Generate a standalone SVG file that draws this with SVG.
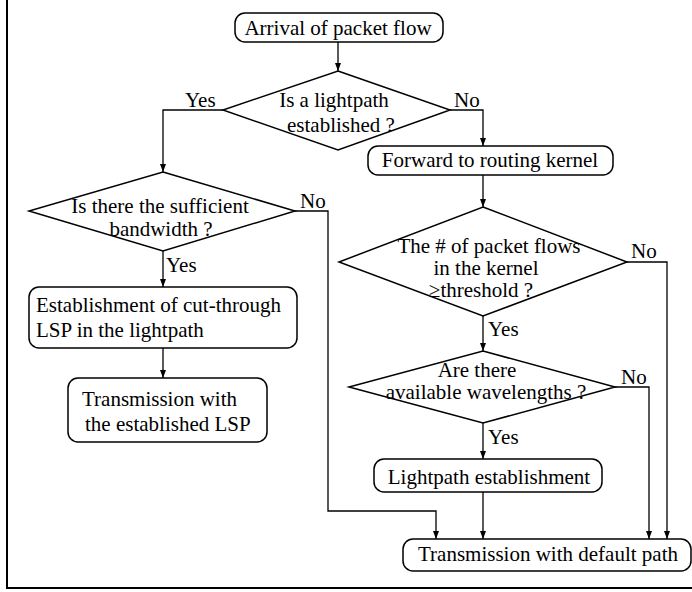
<svg xmlns="http://www.w3.org/2000/svg" width="692" height="592" viewBox="0 0 692 592">
<style>
.box{fill:#fff;stroke:#000;stroke-width:1.5}
.dia{fill:#fff;stroke:#000;stroke-width:1.5}
.con{fill:none;stroke:#000;stroke-width:1.3}
text{font-family:"Liberation Serif","Times New Roman",serif;font-size:21px;fill:#000}
.m{text-anchor:middle}
</style>
<defs>
<marker id="ah" markerWidth="6" markerHeight="8" refX="3" refY="8" orient="0" markerUnits="userSpaceOnUse" viewBox="0 0 6 8">
<path d="M0,0 L6,0 L3,8 Z" fill="#000"/>
</marker>
</defs>
<rect width="692" height="592" fill="#fff"/>
<path d="M7,0 V588 H692" fill="none" stroke="#000" stroke-width="2"/>
<g id="connectors">
<path class="con" d="M338,42 V71" marker-end="url(#ah)"/>
<path class="con" d="M223,110 H163 V172" marker-end="url(#ah)"/>
<path class="con" d="M450,110 H483 V146" marker-end="url(#ah)"/>
<path class="con" d="M483,175 V207" marker-end="url(#ah)"/>
<path class="con" d="M163,251 V287" marker-end="url(#ah)"/>
<path class="con" d="M295,211 H328 V511 H436 V539" marker-end="url(#ah)"/>
<path class="con" d="M163,348 V378" marker-end="url(#ah)"/>
<path class="con" d="M483,316 V351" marker-end="url(#ah)"/>
<path class="con" d="M627,262 H667 V539" marker-end="url(#ah)"/>
<path class="con" d="M483,423 V459" marker-end="url(#ah)"/>
<path class="con" d="M615,387 H649 V539" marker-end="url(#ah)"/>
<path class="con" d="M483,492 V539" marker-end="url(#ah)"/>
<text x="185" y="107">Yes</text>
<text x="454" y="107">No</text>
<text x="300" y="208">No</text>
<text x="166" y="272">Yes</text>
<text x="631" y="258">No</text>
<text x="488" y="336">Yes</text>
<text x="621" y="384">No</text>
<text x="488" y="444">Yes</text>
</g>
<g id="arrival">
<rect class="box" x="235" y="13" width="208" height="29" rx="10"/>
<text class="m" x="338" y="35">Arrival of packet flow</text>
</g>
<g id="d1">
<polygon class="dia" points="338,71 450,110 338,150 223,110"/>
<text class="m" x="334" y="107">Is a lightpath</text>
<text class="m" x="341" y="132">established ?</text>
</g>
<g id="forward">
<rect class="box" x="368" y="146" width="245" height="29" rx="10"/>
<text class="m" x="490" y="167">Forward to routing kernel</text>
</g>
<g id="d2">
<polygon class="dia" points="163,172 295,211 163,251 29,211"/>
<text class="m" x="160" y="213">Is there the sufficient</text>
<text class="m" x="161" y="236">bandwidth ?</text>
</g>
<g id="establish">
<rect class="box" x="29" y="287" width="268" height="61" rx="10"/>
<text x="36" y="312">Establishment of cut-through</text>
<text x="36" y="337">LSP in the lightpath</text>
</g>
<g id="transLSP">
<rect class="box" x="68" y="378" width="199" height="64" rx="10"/>
<text x="82" y="406">Transmission with</text>
<text x="85" y="431">the established LSP</text>
</g>
<g id="d3">
<polygon class="dia" points="483,207 627,262 483,316 339,262"/>
<text class="m" x="489" y="253">The # of packet flows</text>
<text class="m" x="486" y="275">in the kernel</text>
<text class="m" x="481" y="297">≥threshold ?</text>
</g>
<g id="d4">
<polygon class="dia" points="483,351 615,387 483,423 349,387"/>
<text class="m" x="477" y="377">Are there</text>
<text class="m" x="486" y="399">available wavelengths ?</text>
</g>
<g id="lightpath">
<rect class="box" x="374" y="459" width="228" height="33" rx="10"/>
<text class="m" x="489" y="484">Lightpath establishment</text>
</g>
<g id="default">
<rect class="box" x="403" y="539" width="288" height="32" rx="10"/>
<text class="m" x="548" y="561">Transmission with default path</text>
</g>
</svg>
